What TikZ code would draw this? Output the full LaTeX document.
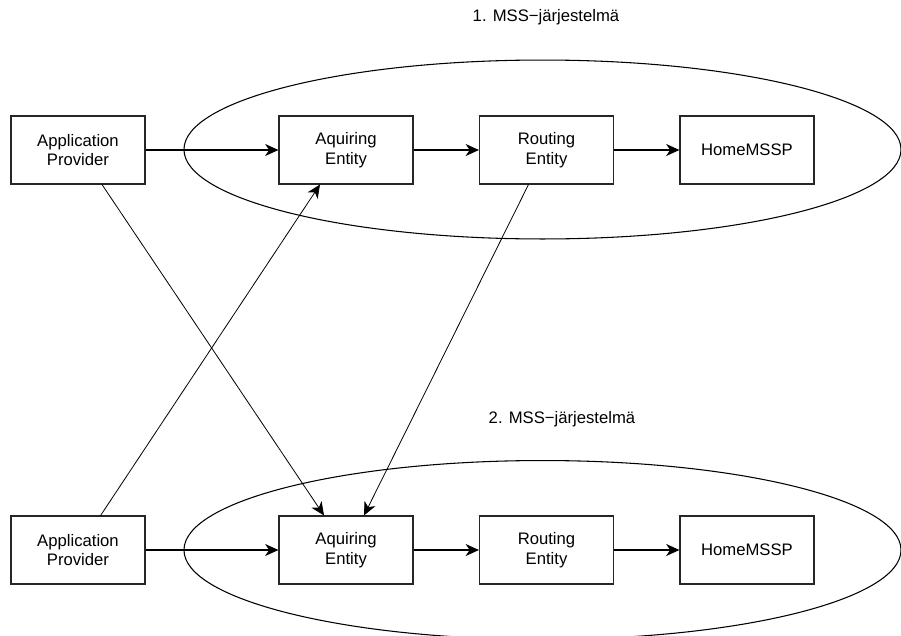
\documentclass[tikz,border=0pt]{standalone}
\usepackage{fontspec}
\setmainfont{Liberation Sans}
\usetikzlibrary{arrows.meta,calc,shapes.geometric}
\begin{document}
\begin{tikzpicture}[x=0.75pt,y=-0.75pt,
  box/.style={draw=black!85,line width=0.8pt,rectangle,minimum width=100.5pt,minimum height=51pt,
    inner sep=0pt,align=center,font=\fontsize{12.5}{14.6}\selectfont},
  sysring/.style={draw,line width=0.8pt,ellipse,inner sep=0pt,minimum width=537.8pt,minimum height=134.2pt},
  title/.style={font=\fontsize{12.5}{14.6}\selectfont},
  flow/.style={line width=0.8pt,-{Stealth[length=10pt,width=9pt,inset=3pt]}},
  cross/.style={line width=0.6pt,-{Stealth[length=10pt,width=9pt,inset=3pt]}}]
\useasboundingbox (0,0) rectangle (901,636);
\clip (0,0) rectangle (901,636);

% system ellipses
\node[sysring] (sys1) at (542.5,149.5) {};
\node[sysring] (sys2) at (542.5,550) {};

% titles
\node[title] (t1) at (546,17) {1. MSS−järjestelmä};
\node[title] (t2) at (562,419) {2. MSS−järjestelmä};

% first system
\node[box] (ap1) at (78,150)    {Application\\Provider};
\node[box] (ae1) at (346,150)   {Aquiring\\Entity};
\node[box] (re1) at (546.5,150) {Routing\\Entity};
\node[box] (hm1) at (747,150)   {HomeMSSP};

% second system
\node[box] (ap2) at (78,550)    {Application\\Provider};
\node[box] (ae2) at (346,550)   {Aquiring\\Entity};
\node[box] (re2) at (546.5,550) {Routing\\Entity};
\node[box] (hm2) at (747,550)   {HomeMSSP};

% chains inside each system
\draw[flow] (ap1) -- (ae1);
\draw[flow] (ae1) -- (re1);
\draw[flow] (re1) -- (hm1);
\draw[flow] (ap2) -- (ae2);
\draw[flow] (ae2) -- (re2);
\draw[flow] (re2) -- (hm2);

% links between the systems
\draw[cross] ($(ap1.south)+(24,0)$) -- ($(ae2.north)+(-22,0)$);
\draw[cross] ($(ap2.north)+(22.6,0)$) -- ($(ae1.south)+(-26,0)$);
\draw[cross] ($(re1.south)+(-18,0)$) -- ($(ae2.north)+(18,0)$);
\end{tikzpicture}
\end{document}
